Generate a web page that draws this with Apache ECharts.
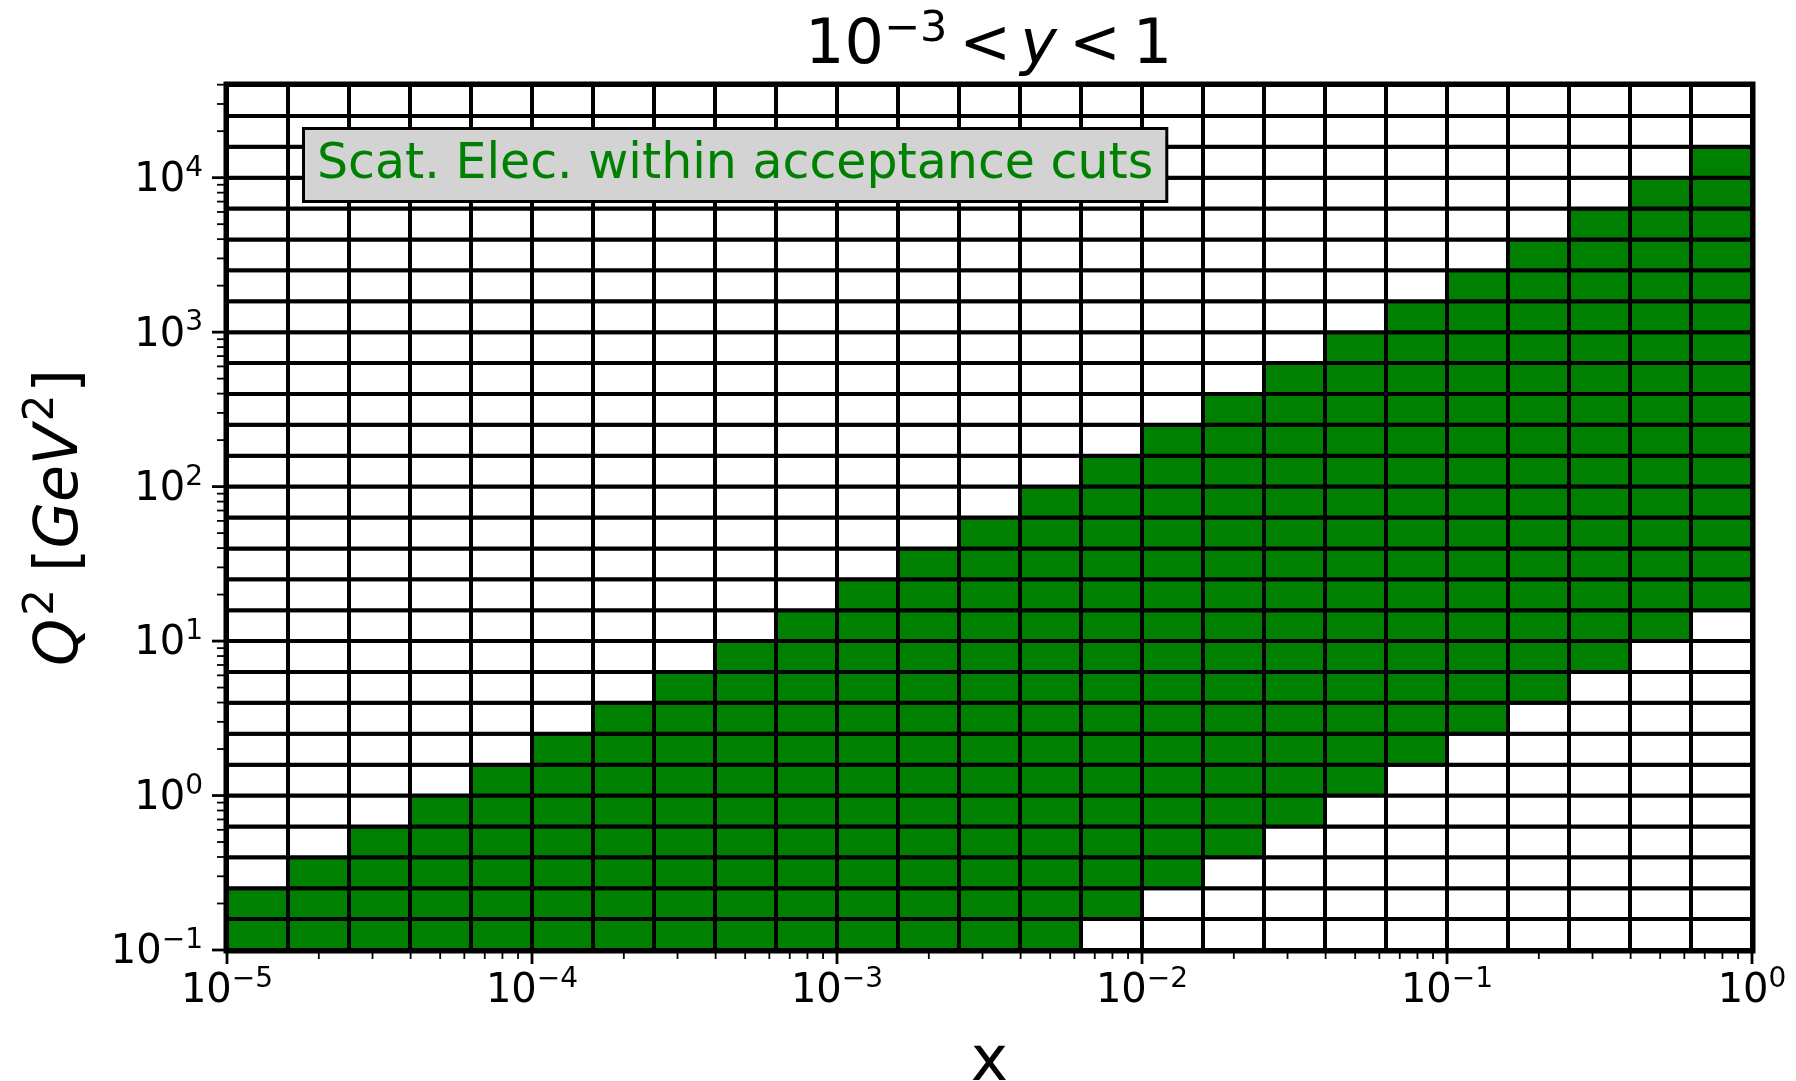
<!DOCTYPE html>
<html><head><meta charset="utf-8">
<script src="https://cdn.jsdelivr.net/npm/echarts@6/dist/echarts.min.js"></script>
<style>html,body{margin:0;padding:0;background:#fff}#c{width:1796px;height:1081px}</style>
</head><body><div id="c"></div>
<script>
// Bin edges (log10) of the 2D histogram
const xBinEdgeExp = [-5.0,-4.8,-4.6,-4.4,-4.2,-4.0,-3.8,-3.6,-3.4,-3.2,-3.0,-2.8,-2.6,-2.4,-2.2,-2.0,-1.8,-1.6,-1.4,-1.2,-1.0,-0.8,-0.6,-0.4,-0.2,0.0];
const q2BinEdgeExp = [-1.0,-0.8,-0.6,-0.4,-0.2,0.0,0.2,0.4,0.6,0.8,1.0,1.2,1.4,1.6,1.8,2.0,2.2,2.4,2.6,2.8,3.0,3.2,3.4,3.6,3.8,4.0,4.2,4.4,4.6];
// For each x bin: first and last Q2 row (inclusive) that is filled (within acceptance cuts)
const greenFirstRow = [0,0,0,0,0,0,0,0,0,0,0,0,0,0,1,2,3,4,5,6,7,8,9,10,11];
const greenLastRow  = [1,2,3,4,5,6,7,8,9,10,11,12,13,14,15,16,17,18,19,20,21,22,23,24,25];
// Axis decade tick exponents
const xTickExp = [-5,-4,-3,-2,-1,0];
const yTickExp = [-1,0,1,2,3,4];
const legendText = 'Scat. Elec. within acceptance cuts';

const FONT = 'DejaVu Sans';
const xMin = Math.pow(10, xBinEdgeExp[0]), xMax = Math.pow(10, xBinEdgeExp[xBinEdgeExp.length-1]);
const yMin = Math.pow(10, q2BinEdgeExp[0]), yMax = Math.pow(10, q2BinEdgeExp[q2BinEdgeExp.length-1]);

// cells
const cells = [];
for (let c = 0; c < xBinEdgeExp.length - 1; c++) {
  for (let r = 0; r < q2BinEdgeExp.length - 1; r++) {
    const on = (r >= greenFirstRow[c] && r <= greenLastRow[c]) ? 1 : 0;
    cells.push([Math.pow(10, xBinEdgeExp[c]), Math.pow(10, xBinEdgeExp[c+1]),
                Math.pow(10, q2BinEdgeExp[r]), Math.pow(10, q2BinEdgeExp[r+1]), on]);
  }
}
// ticks: [x, y, kind] kind 0 x-major,1 x-minor,2 y-major,3 y-minor
const ticks = [];
xTickExp.forEach(function(e){ ticks.push([Math.pow(10,e), yMin, 0]); });
for (let e = xTickExp[0]; e < xTickExp[xTickExp.length-1]; e++) for (let m = 2; m <= 9; m++) ticks.push([m*Math.pow(10,e), yMin, 1]);
yTickExp.forEach(function(e){ ticks.push([xMin, Math.pow(10,e), 2]); });
for (let e = yTickExp[0]; e <= yTickExp[yTickExp.length-1]; e++) for (let m = 2; m <= 9; m++) { const v = m*Math.pow(10,e); if (v <= yMax*1.01) ticks.push([xMin, v, 3]); }

const supRich = {
  b: { fontFamily: FONT, fontSize: 40, lineHeight: 46, verticalAlign: 'bottom', color: '#000' },
  s: { fontFamily: FONT, fontSize: 28, lineHeight: 26, verticalAlign: 'top', color: '#000' }
};
function powLabel(v) {
  const e = Math.log10(v);
  const r = Math.round(e);
  if (Math.abs(e - r) > 1e-6) return '';
  const s = r < 0 ? '\u2212' + (-r) : String(r);
  return '{b|10}{s|' + s + '}';
}

const chart = echarts.init(document.getElementById('c'), null, { renderer: 'canvas' });
chart.setOption({
  animation: false,
  backgroundColor: '#fff',
  grid: { left: 227, right: 44, top: 85, bottom: 131, containLabel: false, outerBoundsMode: 'none',
          show: true, borderColor: '#000', borderWidth: 7, backgroundColor: 'transparent' },
  xAxis: {
    type: 'log', logBase: 10, min: xMin, max: xMax,
    name: 'x', nameLocation: 'middle', nameGap: 82,
    nameTextStyle: { fontFamily: FONT, fontSize: 63, color: '#000' },
    axisLine: { show: false }, axisTick: { show: false }, splitLine: { show: false },
    axisLabel: { margin: 16, formatter: powLabel, rich: supRich, hideOverlap: false }
  },
  yAxis: {
    type: 'log', logBase: 10, min: yMin, max: yMax,
    name: '{i|Q}{s|2}{n|\u2005[}{i|GeV}{s|2}{n|]}', nameLocation: 'middle', nameGap: 136, nameRotate: 90,
    nameTextStyle: { rich: {
      i: { fontFamily: FONT, fontStyle: 'italic', fontSize: 60, lineHeight: 70, verticalAlign: 'bottom', color: '#000' },
      n: { fontFamily: FONT, fontSize: 60, lineHeight: 70, verticalAlign: 'bottom', color: '#000' },
      s: { fontFamily: FONT, fontSize: 42, lineHeight: 38, verticalAlign: 'top', color: '#000', padding: [0, 2, 0, 3] }
    } },
    axisLine: { show: false }, axisTick: { show: false }, splitLine: { show: false },
    axisLabel: { margin: 24, formatter: powLabel, rich: supRich, hideOverlap: false }
  },
  graphic: [
    { type: 'text', z: 100, left: 805, top: 8,
      style: { text: '{n|10}{s|\u22123}{r|<}{i|y}{r|<}{o|1}', rich: {
        n: { fontFamily: FONT, fontSize: 62, lineHeight: 70, verticalAlign: 'bottom', fill: '#000' },
        r: { fontFamily: FONT, fontSize: 62, lineHeight: 70, verticalAlign: 'bottom', fill: '#000', padding: [0, 0, 0, 12] },
        o: { fontFamily: FONT, fontSize: 62, lineHeight: 70, verticalAlign: 'bottom', fill: '#000', padding: [0, 0, 0, 12] },
        i: { fontFamily: FONT, fontStyle: 'italic', fontSize: 62, lineHeight: 70, verticalAlign: 'bottom', fill: '#000', padding: [0, 0, 0, 9] },
        s: { fontFamily: FONT, fontSize: 43, lineHeight: 37, verticalAlign: 'top', fill: '#000' }
      } } },
    { type: 'text', z: 100, x: 305, y: 130,
      style: { text: legendText, font: '49px "DejaVu Sans"', fill: '#008000',
        backgroundColor: '#d3d3d3', borderColor: '#000', borderWidth: 3,
        padding: [7, 12, 6, 12], lineHeight: 57 } }
  ],
  series: [
    { type: 'custom', name: 'cells', z: 2,
      encode: { x: [0, 1], y: [2, 3] },
      data: cells,
      renderItem: function (params, api) {
        const p0 = api.coord([api.value(0), api.value(2)]);
        const p1 = api.coord([api.value(1), api.value(3)]);
        return { type: 'rect',
          shape: { x: p0[0], y: p1[1], width: p1[0] - p0[0], height: p0[1] - p1[1] },
          style: { fill: api.value(4) ? '#008000' : '#ffffff', stroke: '#000', lineWidth: 4 } };
      } },
    { type: 'custom', name: 'ticks', z: 3, clip: false, silent: true,
      encode: { x: 0, y: 1 },
      data: ticks,
      renderItem: function (params, api) {
        const p = api.coord([api.value(0), api.value(1)]);
        const k = api.value(2);
        let shape;
        if (k === 0) shape = { x1: p[0], y1: p[1], x2: p[0], y2: p[1] + 14 };
        else if (k === 1) shape = { x1: p[0], y1: p[1], x2: p[0], y2: p[1] + 9 };
        else if (k === 2) shape = { x1: p[0], y1: p[1], x2: p[0] - 15, y2: p[1] };
        else shape = { x1: p[0], y1: p[1], x2: p[0] - 10, y2: p[1] };
        return { type: 'line', shape: shape, style: { stroke: '#000', lineWidth: (k === 0 || k === 2) ? 2.8 : 1.8 } };
      } }
  ]
});
</script></body></html>
